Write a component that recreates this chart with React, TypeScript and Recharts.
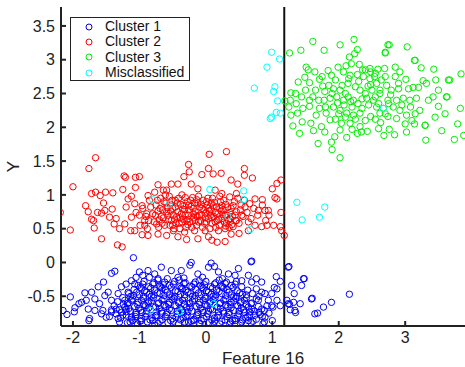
import React from "react";
import {
  ScatterChart,
  Scatter,
  XAxis,
  YAxis,
  ReferenceLine,
} from "recharts";

// points, as [feature16, y]
const cluster1: [number, number][] = [
  [-1.09, 0.07], [-1.37, -0.13], [-1.42, -0.16], [-1.54, -0.29], [-1.62, -0.36], [-1.72, -0.44],
  [-1.82, -0.45], [-2.04, -0.51], [-1.87, -0.59], [-1.91, -0.61], [-1.97, -0.67], [-2.15, -0.71],
  [-2.09, -0.77], [-1.98, -0.73], [-1.77, -0.69], [-1.75, -0.83], [-1.76, -0.86], [-1.67, -0.71],
  [-1.6, -0.61], [-1.52, -0.49], [-1.47, -0.44], [-1.42, -0.56], [-1.32, -0.46], [-1.27, -0.36],
  [-1.2, -0.32], [-1.12, -0.27], [-1.05, -0.22], [-1.0, -0.14], [-0.95, -0.19], [-1.07, -0.32],
  [-1.17, -0.44], [-1.22, -0.56], [-1.2, -0.69], [-1.25, -0.78], [-1.12, -0.81], [-0.97, -0.86],
  [-0.77, -0.93], [-1.57, -0.76], [-1.5, -0.81], [-1.42, -0.73], [-1.35, -0.69], [-1.32, -0.83],
  [-1.67, -0.54], [-1.55, -0.71], [-1.8, -0.56], [-0.67, -0.07], [-0.77, -0.17], [-0.87, -0.12],
  [-0.72, -0.24], [-0.22, 0.0], [-0.24, -0.04], [0.04, -0.07], [0.08, -0.01], [0.13, -0.06],
  [0.68, 0.01], [0.49, -0.09], [0.64, -0.19], [0.76, -0.24], [0.84, -0.29], [1.06, -0.21],
  [1.12, -0.28], [1.07, -0.39], [0.99, -0.46], [0.94, -0.56], [0.99, -0.64], [0.89, -0.81],
  [1.0, -0.86], [1.24, -0.07], [1.29, -0.34], [1.44, -0.34], [1.48, -0.24], [1.33, -0.46],
  [1.22, -0.56], [1.32, -0.59], [1.42, -0.61], [1.24, -0.61], [1.27, -0.7], [1.34, -0.71],
  [1.35, -0.74], [1.59, -0.54], [1.64, -0.76], [-0.52, -0.12], [-0.37, -0.12], [-0.42, -0.22],
  [-0.12, -0.17], [0.19, -0.14], [0.34, -0.17], [0.44, -0.19], [0.54, -0.27], [0.69, -0.29],
  [0.76, -0.39], [0.84, -0.44], [0.79, -0.56], [0.84, -0.69], [0.74, -0.78], [0.64, -0.86],
  [0.54, -0.88], [0.36, -0.91], [0.11, -0.92], [-0.09, -0.91], [-0.32, -0.88], [0.69, 0.02],
  [1.25, -0.06], [1.47, -0.24], [1.6, -0.53], [2.16, -0.47], [1.89, -0.59], [1.77, -0.66],
  [1.68, -0.75], [1.26, -0.62], [1.03, -0.37], [0.89, -0.46], [1.07, -0.56], [1.01, -0.66],
  [1.12, -0.64], [0.86, -0.91],
  [-1.18, -0.89], [-1.03, -0.91], [-0.88, -0.88], [-0.72, -0.9], [-0.57, -0.89], [-0.41, -0.91],
  [-0.26, -0.88], [-0.1, -0.9], [0.05, -0.89], [0.21, -0.91], [0.37, -0.88], [0.52, -0.9], [0.68, -0.89],
  [-1.28, -0.82], [-1.12, -0.84], [-0.97, -0.83], [-0.81, -0.82], [-0.66, -0.85], [-0.5, -0.83],
  [-0.34, -0.82], [-0.18, -0.84], [-0.03, -0.83], [0.13, -0.82], [0.29, -0.85], [0.44, -0.83],
  [0.6, -0.82], [0.76, -0.84],
  [-1.35, -0.76], [-1.2, -0.78], [-1.05, -0.77], [-0.9, -0.76], [-0.74, -0.78], [-0.59, -0.77],
  [-0.43, -0.76], [-0.28, -0.78], [-0.12, -0.77], [0.03, -0.76], [0.19, -0.78], [0.35, -0.77],
  [0.5, -0.76], [0.66, -0.78], [0.82, -0.77],
  [-1.3, -0.7], [-1.14, -0.72], [-0.98, -0.71], [-0.83, -0.7], [-0.67, -0.72], [-0.52, -0.71],
  [-0.36, -0.7], [-0.21, -0.72], [-0.05, -0.71], [0.1, -0.7], [0.26, -0.72], [0.42, -0.71],
  [0.57, -0.7], [0.73, -0.72], [0.88, -0.71],
  [-1.38, -0.64], [-1.22, -0.66], [-1.07, -0.65], [-0.91, -0.64], [-0.76, -0.66], [-0.6, -0.65],
  [-0.45, -0.64], [-0.29, -0.66], [-0.14, -0.65], [0.02, -0.64], [0.17, -0.66], [0.33, -0.65],
  [0.48, -0.64], [0.64, -0.66], [0.79, -0.65],
  [-1.33, -0.58], [-1.17, -0.6], [-1.02, -0.59], [-0.86, -0.58], [-0.71, -0.6], [-0.55, -0.59],
  [-0.4, -0.58], [-0.24, -0.6], [-0.09, -0.59], [0.07, -0.58], [0.22, -0.6], [0.38, -0.59],
  [0.53, -0.58], [0.69, -0.6],
  [-1.25, -0.52], [-1.1, -0.54], [-0.94, -0.53], [-0.79, -0.52], [-0.63, -0.54], [-0.48, -0.53],
  [-0.32, -0.52], [-0.17, -0.54], [-0.01, -0.53], [0.14, -0.52], [0.3, -0.54], [0.45, -0.53],
  [0.61, -0.52], [0.76, -0.54],
  [-1.16, -0.46], [-1.0, -0.48], [-0.85, -0.47], [-0.69, -0.46], [-0.54, -0.48], [-0.38, -0.47],
  [-0.23, -0.46], [-0.07, -0.48], [0.08, -0.47], [0.24, -0.46], [0.39, -0.48], [0.55, -0.47], [0.7, -0.46],
  [-1.08, -0.4], [-0.92, -0.42], [-0.77, -0.41], [-0.61, -0.4], [-0.46, -0.42], [-0.3, -0.41],
  [-0.15, -0.4], [0.01, -0.42], [0.16, -0.41], [0.32, -0.4], [0.47, -0.42], [0.63, -0.41],
  [-1.02, -0.34], [-0.86, -0.36], [-0.7, -0.35], [-0.55, -0.34], [-0.39, -0.36], [-0.24, -0.35],
  [-0.08, -0.34], [0.07, -0.36], [0.23, -0.35], [0.38, -0.34], [0.54, -0.36],
  [-0.93, -0.28], [-0.78, -0.3], [-0.62, -0.29], [-0.47, -0.28], [-0.31, -0.3], [-0.16, -0.29],
  [0.0, -0.28], [0.15, -0.3], [0.31, -0.29], [0.46, -0.28],
  [-0.85, -0.22], [-0.58, -0.24], [-0.33, -0.23], [-0.05, -0.22], [0.25, -0.24],
  [-1.1, -0.86], [-0.8, -0.86], [-0.49, -0.87], [-0.19, -0.86], [0.13, -0.87], [0.44, -0.86],
  [-1.27, -0.74], [-0.96, -0.74], [-0.66, -0.75], [-0.35, -0.74], [-0.04, -0.74], [0.27, -0.75],
  [0.58, -0.74], [-1.24, -0.62], [-0.93, -0.62], [-0.63, -0.63], [-0.32, -0.62], [-0.01, -0.62],
  [0.3, -0.63], [0.61, -0.62], [-1.13, -0.5], [-0.82, -0.5], [-0.51, -0.51], [-0.2, -0.5],
  [0.11, -0.5], [0.42, -0.51], [-0.97, -0.38], [-0.66, -0.38], [-0.35, -0.39], [-0.04, -0.38],
  [0.27, -0.38], [-0.72, -0.26], [-0.4, -0.26], [-0.1, -0.27], [0.2, -0.26], [-1.42, -0.7],
  [-1.45, -0.8], [-1.3, -0.88], [0.85, -0.8], [0.92, -0.64], [0.8, -0.5], [0.88, -0.88], [0.95, -0.75],
  // denser core
  [-1.06, -0.8], [-0.91, -0.8], [-0.76, -0.79], [-0.61, -0.8], [-0.45, -0.81], [-0.3, -0.8],
  [-0.14, -0.79], [0.01, -0.8], [0.17, -0.81], [0.32, -0.8], [0.48, -0.79], [0.63, -0.8],
  [-1.16, -0.68], [-1.01, -0.68], [-0.86, -0.67], [-0.7, -0.68], [-0.55, -0.69], [-0.39, -0.68],
  [-0.24, -0.67], [-0.08, -0.68], [0.07, -0.69], [0.22, -0.68], [0.38, -0.67], [0.53, -0.68], [0.69, -0.69],
  [-1.12, -0.56], [-0.97, -0.56], [-0.82, -0.57], [-0.66, -0.56], [-0.51, -0.55], [-0.35, -0.56],
  [-0.2, -0.57], [-0.04, -0.56], [0.11, -0.55], [0.27, -0.56], [0.42, -0.57], [0.58, -0.56],
  [-1.04, -0.44], [-0.89, -0.44], [-0.73, -0.45], [-0.58, -0.44], [-0.42, -0.43], [-0.27, -0.44],
  [-0.11, -0.45], [0.04, -0.44], [0.2, -0.43], [0.35, -0.44], [0.51, -0.45],
  [-0.95, -0.32], [-0.8, -0.32], [-0.64, -0.33], [-0.49, -0.32], [-0.33, -0.31], [-0.18, -0.32],
  [-0.02, -0.33], [0.13, -0.32], [0.29, -0.31], [0.44, -0.32],
  [-1.14, -0.88], [-0.99, -0.87], [-0.84, -0.85], [-0.69, -0.87], [-0.53, -0.86], [-0.38, -0.85],
  [-0.22, -0.87], [-0.07, -0.86], [0.09, -0.85], [0.24, -0.87], [0.4, -0.86], [0.55, -0.85], [0.71, -0.87],
  [-1.2, -0.73], [-1.05, -0.74], [-0.89, -0.72], [-0.74, -0.73], [-0.58, -0.74], [-0.43, -0.72],
  [-0.27, -0.73], [-0.12, -0.74], [0.04, -0.72], [0.19, -0.73], [0.35, -0.74], [0.5, -0.72],
  [0.66, -0.73], [0.8, -0.74],
  [-1.18, -0.61], [-1.03, -0.62], [-0.87, -0.6], [-0.72, -0.61], [-0.56, -0.62], [-0.41, -0.6],
  [-0.25, -0.61], [-0.1, -0.62], [0.06, -0.6], [0.21, -0.61], [0.37, -0.62], [0.52, -0.6], [0.68, -0.61],
  [-1.09, -0.49], [-0.94, -0.5], [-0.78, -0.48], [-0.63, -0.49], [-0.47, -0.5], [-0.32, -0.48],
  [-0.16, -0.49], [-0.01, -0.5], [0.15, -0.48], [0.3, -0.49], [0.46, -0.5], [0.61, -0.48],
  [-0.99, -0.37], [-0.83, -0.38], [-0.68, -0.36], [-0.52, -0.37], [-0.37, -0.38], [-0.21, -0.36],
  [-0.06, -0.37], [0.1, -0.38], [0.25, -0.36], [0.41, -0.37],
];

const cluster2: [number, number][] = [
  [-1.66, 1.55], [-1.76, 1.39], [-2.0, 1.12], [-2.19, 0.74], [-2.04, 0.48], [-1.23, 1.28],
  [-1.21, 1.26], [-1.06, 1.26], [-1.0, 1.27], [-1.06, 1.11], [-1.25, 1.08], [-1.4, 1.03],
  [-1.51, 1.04], [-1.66, 1.04], [-1.72, 1.02], [-1.59, 0.99], [-1.81, 0.84], [-1.77, 0.75],
  [-1.63, 0.74], [-1.72, 0.64], [-1.69, 0.62], [-1.68, 0.51], [-1.57, 0.35], [-1.33, 0.26],
  [-1.26, 0.23], [-1.54, 0.88], [-1.52, 0.77], [-1.57, 0.73], [-1.41, 0.79], [-1.45, 0.67],
  [-1.35, 0.65], [-1.38, 0.57], [-1.3, 0.5], [-1.22, 0.57], [-1.2, 0.82], [-1.17, 0.94],
  [-1.12, 0.98], [-1.07, 0.87], [-1.05, 0.74], [-1.12, 0.67], [-1.13, 0.47], [-1.07, 0.47],
  [-0.96, 0.41], [-0.87, 0.4], [-0.99, 0.55], [-0.92, 0.62], [-0.89, 0.72], [-0.96, 0.84],
  [-0.87, 0.99], [-0.72, 1.15], [-0.64, 1.07], [-0.77, 1.04], [-0.74, 0.57], [-0.72, 0.42],
  [-0.59, 0.4],
  [0.05, 1.6], [0.31, 1.64], [-0.26, 1.45], [-0.25, 1.34], [-0.33, 1.27], [-0.06, 1.3],
  [0.04, 1.39], [0.11, 1.31], [0.23, 1.32], [0.38, 1.22], [0.48, 1.16], [0.58, 1.39],
  [0.58, 1.29], [0.7, 1.25], [1.07, 1.17], [1.13, 1.22], [1.0, 1.09], [1.04, 0.96],
  [1.07, 0.94], [0.85, 0.93], [0.79, 0.77], [0.89, 0.77], [0.94, 0.77], [1.13, 0.74],
  [1.02, 0.55], [0.92, 0.55], [0.84, 0.53], [0.74, 0.55], [1.12, 0.53], [1.14, 0.47],
  [1.18, 0.4], [0.64, 0.6], [0.64, 0.47], [0.5, 0.43], [0.38, 0.42], [0.41, 0.53],
  [0.17, 0.3], [0.29, 0.31], [0.09, 0.33], [0.04, 0.38], [-0.12, 0.35], [-0.29, 0.34],
  [-0.42, 0.38], [-0.49, 0.47], [-0.54, 0.55], [-0.32, 0.45], [-0.17, 0.47], [-0.01, 0.47],
  [0.19, 0.47], [0.29, 0.5], [0.36, 0.65], [0.46, 0.62], [0.54, 0.7], [0.59, 0.82],
  [0.66, 0.87], [0.74, 0.94], [0.46, 1.02], [0.36, 0.97], [0.24, 1.02], [0.14, 1.07],
  [-0.12, 1.09], [-0.22, 1.16], [-0.42, 1.16], [-0.52, 1.16], [-0.59, 1.07],
  [-0.8, 0.72], [-0.75, 0.85], [-0.7, 0.63], [-0.68, 0.95], [-0.65, 0.78], [-0.62, 0.55],
  [-0.6, 0.88], [-0.57, 0.7], [-0.55, 0.98], [-0.52, 0.62], [-0.5, 0.8], [-0.48, 0.5],
  [-0.46, 0.92], [-0.44, 0.68], [-0.42, 0.75], [-0.4, 0.58], [-0.38, 0.86], [-0.36, 1.0],
  [-0.34, 0.64], [-0.32, 0.78], [-0.3, 0.52], [-0.28, 0.9], [-0.26, 0.7], [-0.24, 0.6],
  [-0.22, 0.83], [-0.2, 0.96], [-0.18, 0.66], [-0.16, 0.75], [-0.14, 0.55], [-0.12, 0.88],
  [-0.1, 0.7], [-0.08, 0.62], [-0.06, 0.8], [-0.04, 0.92], [-0.02, 0.58], [0.0, 0.73],
  [0.02, 0.85], [0.04, 0.65], [0.06, 0.5], [0.08, 0.78], [0.1, 0.95], [0.12, 0.68],
  [0.14, 0.6], [0.16, 0.82], [0.18, 0.72], [0.2, 0.55], [0.22, 0.9], [0.24, 0.65],
  [0.26, 0.78], [0.28, 0.6], [0.3, 0.86], [0.32, 0.7], [0.35, 0.52], [0.38, 0.8],
  [0.4, 0.68], [0.43, 0.9], [0.46, 0.75], [0.5, 0.58], [0.53, 0.85], [0.56, 0.68],
  [-0.78, 0.6], [-0.73, 0.92], [-0.69, 0.8], [-0.64, 0.66], [-0.59, 0.75], [-0.54, 0.86],
  [-0.49, 0.7], [-0.45, 0.58], [-0.41, 0.95], [-0.37, 0.72], [-0.33, 0.84], [-0.29, 0.62],
  [-0.25, 0.78], [-0.21, 0.52], [-0.17, 0.88], [-0.13, 0.68], [-0.09, 0.82], [-0.05, 0.52],
  [-0.01, 0.66], [0.03, 0.95], [0.07, 0.7], [0.11, 0.84], [0.15, 0.52], [0.19, 0.64],
  [0.23, 0.76], [0.27, 0.92], [0.31, 0.58], [0.36, 0.74], [0.41, 0.84], [0.45, 0.62],
  [-0.9, 0.68], [-0.95, 0.8], [-0.92, 0.55], [-1.0, 0.7], [-0.85, 0.92], [-0.88, 0.5],
  [-0.76, 0.7], [-0.66, 0.58], [-0.56, 0.64], [-0.46, 0.82], [-0.36, 0.6], [-0.26, 0.85],
  [-0.16, 0.62], [-0.06, 0.7], [0.04, 0.8], [0.14, 0.74], [0.24, 0.84], [0.34, 0.63],
  [-0.71, 0.52], [-0.61, 1.0], [-0.51, 0.92], [-0.39, 0.5], [-0.31, 0.96], [-0.19, 0.72],
  [-0.11, 0.98], [0.01, 0.9], [0.09, 0.58], [0.21, 0.98], [0.29, 0.7], [0.39, 0.56],
  [0.48, 0.95], [0.58, 0.92], [0.62, 0.74], [0.68, 0.65], [0.72, 0.8], [0.78, 0.7],
  [0.85, 0.85], [0.9, 0.62], [0.95, 0.7],
  [-0.67, 0.68], [-0.58, 0.81], [-0.47, 0.64], [-0.35, 0.79], [-0.27, 0.56], [-0.23, 0.92],
  [-0.15, 0.69], [-0.07, 0.86], [0.01, 0.6], [0.05, 0.76], [0.13, 0.89], [0.17, 0.62],
  [0.25, 0.71], [0.33, 0.82], [-0.43, 0.88], [-0.53, 0.76], [-0.63, 0.9], [-0.39, 0.66],
  [-0.11, 0.6], [0.09, 0.66], [-0.03, 0.78], [-0.19, 0.8], [-0.31, 0.7], [0.21, 0.8],
  [0.37, 0.64], [-0.72, 0.76], [-0.83, 0.82], [-0.86, 0.62], [0.44, 0.7], [0.52, 0.78],
  [-0.5, 0.55], [-0.14, 0.93], [0.08, 0.88], [-0.27, 0.64], [0.3, 0.54],
];

const cluster3: [number, number][] = [
  [1.26, 3.1], [1.43, 3.14], [1.61, 3.27], [1.78, 3.14], [2.02, 3.22], [2.23, 3.3],
  [2.28, 3.15], [2.24, 3.09], [2.16, 3.04], [2.7, 3.11], [2.74, 3.22], [3.03, 3.19],
  [3.14, 2.99], [3.24, 2.88], [3.43, 2.86], [3.84, 2.79], [3.65, 2.7], [3.46, 2.7],
  [3.27, 2.69], [1.51, 2.89], [1.54, 2.85], [1.64, 2.82], [1.49, 2.74], [1.39, 2.67],
  [1.56, 2.66], [1.71, 2.71], [1.84, 2.84], [1.89, 2.77], [1.99, 2.89], [2.07, 2.82],
  [2.11, 2.91], [2.19, 2.94], [2.31, 2.93], [2.36, 2.85], [2.47, 2.87], [2.48, 2.82],
  [2.59, 2.86], [2.69, 2.87], [2.85, 2.89], [2.92, 2.82], [3.01, 2.71], [3.12, 2.59],
  [3.2, 2.59], [3.32, 2.65], [3.42, 2.45], [3.62, 2.45], [3.83, 2.28], [3.79, 2.05],
  [3.88, 1.88], [3.74, 1.82], [3.31, 1.81], [3.3, 2.03], [3.14, 2.05], [3.02, 1.93],
  [2.84, 1.89], [2.68, 1.88], [2.76, 1.97], [2.63, 2.07], [2.48, 2.16], [2.43, 1.94],
  [2.34, 1.93], [2.28, 1.91], [2.12, 1.85], [1.94, 1.86], [1.89, 1.78], [1.9, 1.67],
  [2.02, 1.55], [1.69, 1.76], [1.41, 1.91], [1.31, 2.02], [1.28, 2.18], [1.19, 2.39],
  [1.28, 2.51], [1.27, 2.4], [1.36, 2.35], [1.38, 2.21], [1.46, 2.28], [1.56, 2.31],
  [1.61, 2.45], [1.76, 2.61], [1.79, 2.53], [1.78, 2.4], [1.87, 2.43], [1.97, 2.45],
  [2.07, 2.4], [2.14, 2.45], [2.22, 2.4], [2.29, 2.35], [2.42, 2.43], [2.52, 2.4],
  [2.57, 2.3], [2.67, 2.28], [2.74, 2.4], [2.87, 2.4], [2.97, 2.43], [3.07, 2.4],
  [3.17, 2.43], [3.22, 2.25], [2.92, 2.25], [3.02, 2.18], [3.1, 2.1], [2.87, 2.13],
  [2.74, 2.16], [2.62, 2.21], [2.32, 2.21], [2.22, 2.18], [2.12, 2.21], [2.02, 2.25],
  [1.92, 2.3], [1.81, 2.21], [1.71, 2.28], [1.66, 2.18], [1.87, 2.11], [2.04, 2.06],
  [2.17, 2.06], [2.32, 2.01], [1.58, 2.06], [1.74, 2.01], [1.79, 1.93], [2.02, 1.96],
  [2.14, 2.65], [2.02, 2.55], [1.92, 2.57], [2.32, 2.55], [2.44, 2.61], [2.57, 2.65],
  [2.64, 2.7], [2.72, 2.62], [2.79, 2.55], [2.9, 2.57], [3.05, 2.57], [2.62, 2.55],
  [1.56, 2.4], [1.44, 2.45], [2.17, 2.77], [2.37, 2.75], [2.47, 2.72], [2.54, 2.75],
  [2.05, 2.62], [2.1, 2.5], [2.25, 2.6], [2.3, 2.68], [2.4, 2.5], [2.5, 2.55],
  [2.55, 2.45], [2.6, 2.35], [2.45, 2.33], [2.35, 2.28], [2.2, 2.3], [2.08, 2.33],
  [1.98, 2.36], [1.9, 2.5], [1.85, 2.62], [1.95, 2.7], [2.15, 2.72], [2.28, 2.78],
  [2.4, 2.85], [2.55, 2.8], [2.7, 2.75], [2.78, 2.48], [2.82, 2.3], [2.7, 2.2],
  [2.55, 2.12], [2.4, 2.1], [2.25, 2.12], [2.1, 2.15], [1.95, 2.12], [1.8, 2.3],
  [1.7, 2.4], [1.65, 2.55], [1.75, 2.75], [2.0, 2.2], [2.18, 2.38], [2.35, 2.42],
  [2.48, 2.63], [2.62, 2.5], [2.75, 2.35], [2.95, 2.33], [3.08, 2.3], [3.15, 2.2],
  [2.9, 2.65], [2.85, 2.75], [3.35, 2.4], [3.5, 2.55], [3.6, 2.2], [3.45, 2.15],
  [3.55, 1.95], [3.0, 2.05], [2.6, 1.98], [2.2, 1.97], [1.5, 2.55], [1.35, 2.5],
  [1.25, 2.3], [1.45, 2.08], [1.62, 1.95], [2.76, 3.22], [2.7, 3.1], [3.15, 2.99],
  [3.67, 2.7], [3.63, 2.45], [3.5, 2.31], [3.3, 2.03],
];

const misclassified: [number, number][] = [
  [0.99, 3.11], [1.11, 3.01], [0.92, 2.89], [0.73, 2.58], [1.04, 2.6], [1.02, 2.53],
  [1.08, 2.39], [1.06, 2.22], [1.12, 2.21], [0.99, 2.15], [0.97, 2.13], [2.67, 2.28],
  [1.37, 0.89], [1.79, 0.82], [1.45, 0.63], [1.71, 0.67], [-0.8, 0.93], [-0.55, 0.86],
  [0.06, 1.08], [0.33, 0.68], [0.57, 1.06], [0.57, 0.93], [0.67, 0.49], [-0.83, -0.71],
  [-0.39, -0.73], [0.12, -0.61],
];

const xTicks = [-2, -1, 0, 1, 2, 3];
const yTicks = [-0.5, 0, 0.5, 1, 1.5, 2, 2.5, 3, 3.5];
const splitX = 1.18;

const series = [
  { name: "Cluster 1", color: "#0000ff", points: cluster1 },
  { name: "Cluster 2", color: "#ff0000", points: cluster2 },
  { name: "Cluster 3", color: "#00ee00", points: cluster3 },
  { name: "Misclassified", color: "#00ffff", points: misclassified },
];

const font = "'Liberation Sans', Arial, Helvetica, sans-serif";

const ring = (color: string) => (props: any) => (
  <circle cx={props.cx} cy={props.cy} r={3.2} fill="none" stroke={color} strokeWidth={1} />
);

function LegendBox() {
  return (
    <div
      style={{
        position: "absolute",
        left: 70,
        top: 17,
        width: 118,
        height: 61,
        background: "#fff",
        border: "1.5px solid #222",
        fontFamily: font,
        fontSize: 14,
        color: "#111",
        lineHeight: "15.3px",
        paddingTop: 1,
      }}
    >
      {series.map((s) => (
        <div key={s.name} style={{ display: "flex", alignItems: "center" }}>
          <svg width={34} height={12}>
            <circle cx={18} cy={6} r={3} fill="none" stroke={s.color} strokeWidth={1} />
          </svg>
          <span>{s.name}</span>
        </div>
      ))}
    </div>
  );
}

export default function App() {
  return (
    <div style={{ position: "absolute", left: 0, top: 0, width: 465, height: 367, background: "#fff" }}>
      <ScatterChart width={465} height={367} margin={{ top: 7, right: 0, bottom: 0, left: 0 }}>
        <XAxis
          type="number"
          dataKey="x"
          domain={[-2.18, 3.9]}
          ticks={xTicks}
          allowDataOverflow
          height={41}
          stroke="#222"
          strokeWidth={2}
          tickSize={-5}
          tickMargin={11}
          tick={{ fill: "#222", fontSize: 16, fontFamily: font }}
          label={{
            value: "Feature 16",
            position: "insideBottom",
            offset: 3,
            fill: "#222",
            fontSize: 17,
            fontFamily: font,
          }}
        />
        <YAxis
          type="number"
          dataKey="y"
          domain={[-0.94, 3.78]}
          ticks={yTicks}
          allowDataOverflow
          width={61}
          stroke="#222"
          strokeWidth={2}
          tickSize={-5}
          tickMargin={11}
          tick={{ fill: "#222", fontSize: 16, fontFamily: font }}
          label={{
            value: "Y",
            angle: -90,
            position: "insideLeft",
            offset: 13,
            fill: "#222",
            fontSize: 17,
            fontFamily: font,
            style: { textAnchor: "middle" },
          }}
        />
        {series.map((s) => (
          <Scatter
            key={s.name}
            name={s.name}
            data={s.points.map(([x, y]) => ({ x, y }))}
            shape={ring(s.color)}
            isAnimationActive={false}
          />
        ))}
        <ReferenceLine x={splitX} stroke="#111" strokeWidth={2} />
      </ScatterChart>
      <LegendBox />
    </div>
  );
}
